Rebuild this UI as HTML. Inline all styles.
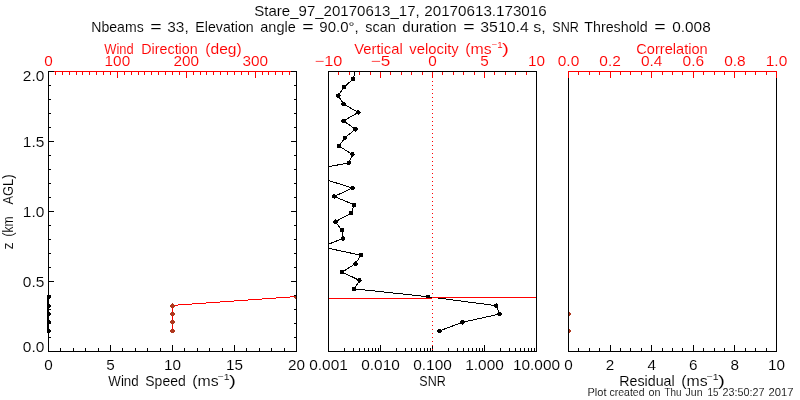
<!DOCTYPE html>
<html lang="en">
<head>
<meta charset="utf-8">
<title>Stare_97_20170613_17</title>
<style>
html,body{margin:0;padding:0;background:#fff;}
body{width:800px;height:400px;overflow:hidden;}
svg{display:block;font-family:"Liberation Sans",sans-serif;}
svg rect{shape-rendering:crispEdges;}
svg .d polyline,svg .d circle{shape-rendering:crispEdges;}
svg text{stroke:#fff;stroke-width:0.1px;}
</style>
</head>
<body>
<svg width="800" height="400" viewBox="0 0 800 400">
<rect x="0" y="0" width="800" height="400" fill="#ffffff"/>
<clipPath id="c2"><rect x="328" y="71" width="209" height="281"/></clipPath>
<clipPath id="c1"><rect x="47" y="71" width="249" height="281"/></clipPath>
<g clip-path="url(#c2)" class="d"><polyline points="439.50,330.85 462.50,322.30 499.50,314.05 496.25,305.65 428.00,296.70 354.25,288.85 359.50,280.45 342.25,272.05 355.50,263.65 361.00,255.25 321.75,246.85 343.00,238.45 341.75,230.05 335.50,221.65 351.00,213.25 354.25,204.85 334.25,196.45 352.50,188.05 325.80,179.65 305.00,171.25 348.75,162.85 352.50,154.45 339.00,146.05 345.00,137.65 355.50,129.25 343.50,120.85 358.30,112.45 343.60,104.05 338.30,95.65 344.00,87.25 353.30,78.85 355.50,70.45" fill="none" stroke="#000000" stroke-width="1"/>
<circle cx="439.50" cy="330.85" r="2.3" fill="#000000"/>
<circle cx="462.50" cy="322.30" r="2.3" fill="#000000"/>
<circle cx="499.50" cy="314.05" r="2.3" fill="#000000"/>
<circle cx="496.25" cy="305.65" r="2.3" fill="#000000"/>
<circle cx="428.00" cy="296.70" r="2.3" fill="#000000"/>
<circle cx="354.25" cy="288.85" r="2.3" fill="#000000"/>
<circle cx="359.50" cy="280.45" r="2.3" fill="#000000"/>
<circle cx="342.25" cy="272.05" r="2.3" fill="#000000"/>
<circle cx="355.50" cy="263.65" r="2.3" fill="#000000"/>
<circle cx="361.00" cy="255.25" r="2.3" fill="#000000"/>
<circle cx="321.75" cy="246.85" r="2.3" fill="#000000"/>
<circle cx="343.00" cy="238.45" r="2.3" fill="#000000"/>
<circle cx="341.75" cy="230.05" r="2.3" fill="#000000"/>
<circle cx="335.50" cy="221.65" r="2.3" fill="#000000"/>
<circle cx="351.00" cy="213.25" r="2.3" fill="#000000"/>
<circle cx="354.25" cy="204.85" r="2.3" fill="#000000"/>
<circle cx="334.25" cy="196.45" r="2.3" fill="#000000"/>
<circle cx="352.50" cy="188.05" r="2.3" fill="#000000"/>
<circle cx="325.80" cy="179.65" r="2.3" fill="#000000"/>
<circle cx="305.00" cy="171.25" r="2.3" fill="#000000"/>
<circle cx="348.75" cy="162.85" r="2.3" fill="#000000"/>
<circle cx="352.50" cy="154.45" r="2.3" fill="#000000"/>
<circle cx="339.00" cy="146.05" r="2.3" fill="#000000"/>
<circle cx="345.00" cy="137.65" r="2.3" fill="#000000"/>
<circle cx="355.50" cy="129.25" r="2.3" fill="#000000"/>
<circle cx="343.50" cy="120.85" r="2.3" fill="#000000"/>
<circle cx="358.30" cy="112.45" r="2.3" fill="#000000"/>
<circle cx="343.60" cy="104.05" r="2.3" fill="#000000"/>
<circle cx="338.30" cy="95.65" r="2.3" fill="#000000"/>
<circle cx="344.00" cy="87.25" r="2.3" fill="#000000"/>
<circle cx="353.30" cy="78.85" r="2.3" fill="#000000"/>
</g>
<rect x="329" y="298" width="103" height="1" fill="#ff0000"/>
<rect x="432" y="297" width="104" height="1" fill="#ff0000"/>
<g clip-path="url(#c1)" class="d">
<rect x="47" y="297" width="1" height="34" fill="#000000"/>
<circle cx="48.50" cy="330.85" r="2.3" fill="#000000"/>
<circle cx="48.50" cy="322.30" r="2.3" fill="#000000"/>
<circle cx="48.50" cy="314.05" r="2.3" fill="#000000"/>
<circle cx="48.50" cy="305.65" r="2.3" fill="#000000"/>
<circle cx="48.50" cy="296.70" r="2.3" fill="#000000"/>
<polyline points="172.50,330.85 172.50,322.45 172.50,314.05 172.50,305.38 296.50,296.53" fill="none" stroke="#ff0000" stroke-width="1"/>
<circle cx="172.50" cy="330.85" r="2.3" fill="#b0381e"/>
<circle cx="172.50" cy="322.30" r="2.3" fill="#b0381e"/>
<circle cx="172.50" cy="314.05" r="2.3" fill="#b0381e"/>
<circle cx="172.50" cy="305.65" r="2.3" fill="#b0381e"/>
<circle cx="296.50" cy="297.00" r="2.3" fill="#b0381e"/>
</g>
<rect x="569" y="312" width="1" height="4" fill="#b0381e"/>
<rect x="570" y="313" width="1" height="2" fill="#b0381e"/>
<rect x="569" y="329" width="1" height="4" fill="#b0381e"/>
<rect x="570" y="330" width="1" height="2" fill="#b0381e"/>
<rect x="48" y="71" width="249" height="1" fill="#ff0000"/>
<rect x="48" y="71" width="1" height="7" fill="#ff0000"/>
<rect x="55" y="71" width="1" height="4" fill="#ff0000"/>
<rect x="62" y="71" width="1" height="4" fill="#ff0000"/>
<rect x="69" y="71" width="1" height="4" fill="#ff0000"/>
<rect x="76" y="71" width="1" height="4" fill="#ff0000"/>
<rect x="82" y="71" width="1" height="4" fill="#ff0000"/>
<rect x="89" y="71" width="1" height="4" fill="#ff0000"/>
<rect x="96" y="71" width="1" height="4" fill="#ff0000"/>
<rect x="103" y="71" width="1" height="4" fill="#ff0000"/>
<rect x="110" y="71" width="1" height="4" fill="#ff0000"/>
<rect x="117" y="71" width="1" height="7" fill="#ff0000"/>
<rect x="124" y="71" width="1" height="4" fill="#ff0000"/>
<rect x="131" y="71" width="1" height="4" fill="#ff0000"/>
<rect x="138" y="71" width="1" height="4" fill="#ff0000"/>
<rect x="144" y="71" width="1" height="4" fill="#ff0000"/>
<rect x="151" y="71" width="1" height="4" fill="#ff0000"/>
<rect x="158" y="71" width="1" height="4" fill="#ff0000"/>
<rect x="165" y="71" width="1" height="4" fill="#ff0000"/>
<rect x="172" y="71" width="1" height="4" fill="#ff0000"/>
<rect x="179" y="71" width="1" height="4" fill="#ff0000"/>
<rect x="186" y="71" width="1" height="7" fill="#ff0000"/>
<rect x="193" y="71" width="1" height="4" fill="#ff0000"/>
<rect x="200" y="71" width="1" height="4" fill="#ff0000"/>
<rect x="206" y="71" width="1" height="4" fill="#ff0000"/>
<rect x="213" y="71" width="1" height="4" fill="#ff0000"/>
<rect x="220" y="71" width="1" height="4" fill="#ff0000"/>
<rect x="227" y="71" width="1" height="4" fill="#ff0000"/>
<rect x="234" y="71" width="1" height="4" fill="#ff0000"/>
<rect x="241" y="71" width="1" height="4" fill="#ff0000"/>
<rect x="248" y="71" width="1" height="4" fill="#ff0000"/>
<rect x="255" y="71" width="1" height="7" fill="#ff0000"/>
<rect x="262" y="71" width="1" height="4" fill="#ff0000"/>
<rect x="268" y="71" width="1" height="4" fill="#ff0000"/>
<rect x="275" y="71" width="1" height="4" fill="#ff0000"/>
<rect x="282" y="71" width="1" height="4" fill="#ff0000"/>
<rect x="289" y="71" width="1" height="4" fill="#ff0000"/>
<rect x="296" y="71" width="1" height="4" fill="#ff0000"/>
<rect x="48" y="351" width="249" height="1" fill="#000000"/>
<rect x="48" y="345" width="1" height="7" fill="#000000"/>
<rect x="60" y="348" width="1" height="4" fill="#000000"/>
<rect x="73" y="348" width="1" height="4" fill="#000000"/>
<rect x="85" y="348" width="1" height="4" fill="#000000"/>
<rect x="98" y="348" width="1" height="4" fill="#000000"/>
<rect x="110" y="345" width="1" height="7" fill="#000000"/>
<rect x="122" y="348" width="1" height="4" fill="#000000"/>
<rect x="135" y="348" width="1" height="4" fill="#000000"/>
<rect x="147" y="348" width="1" height="4" fill="#000000"/>
<rect x="160" y="348" width="1" height="4" fill="#000000"/>
<rect x="172" y="345" width="1" height="7" fill="#000000"/>
<rect x="184" y="348" width="1" height="4" fill="#000000"/>
<rect x="197" y="348" width="1" height="4" fill="#000000"/>
<rect x="209" y="348" width="1" height="4" fill="#000000"/>
<rect x="222" y="348" width="1" height="4" fill="#000000"/>
<rect x="234" y="345" width="1" height="7" fill="#000000"/>
<rect x="246" y="348" width="1" height="4" fill="#000000"/>
<rect x="259" y="348" width="1" height="4" fill="#000000"/>
<rect x="271" y="348" width="1" height="4" fill="#000000"/>
<rect x="284" y="348" width="1" height="4" fill="#000000"/>
<rect x="296" y="345" width="1" height="7" fill="#000000"/>
<rect x="48" y="71" width="1" height="281" fill="#000000"/>
<rect x="296" y="71" width="1" height="281" fill="#000000"/>
<rect x="48" y="351" width="6" height="1" fill="#000000"/>
<rect x="291" y="351" width="6" height="1" fill="#000000"/>
<rect x="48" y="337" width="3" height="1" fill="#000000"/>
<rect x="294" y="337" width="3" height="1" fill="#000000"/>
<rect x="48" y="323" width="3" height="1" fill="#000000"/>
<rect x="294" y="323" width="3" height="1" fill="#000000"/>
<rect x="48" y="309" width="3" height="1" fill="#000000"/>
<rect x="294" y="309" width="3" height="1" fill="#000000"/>
<rect x="48" y="295" width="3" height="1" fill="#000000"/>
<rect x="294" y="295" width="3" height="1" fill="#000000"/>
<rect x="48" y="281" width="6" height="1" fill="#000000"/>
<rect x="291" y="281" width="6" height="1" fill="#000000"/>
<rect x="48" y="267" width="3" height="1" fill="#000000"/>
<rect x="294" y="267" width="3" height="1" fill="#000000"/>
<rect x="48" y="253" width="3" height="1" fill="#000000"/>
<rect x="294" y="253" width="3" height="1" fill="#000000"/>
<rect x="48" y="239" width="3" height="1" fill="#000000"/>
<rect x="294" y="239" width="3" height="1" fill="#000000"/>
<rect x="48" y="225" width="3" height="1" fill="#000000"/>
<rect x="294" y="225" width="3" height="1" fill="#000000"/>
<rect x="48" y="211" width="6" height="1" fill="#000000"/>
<rect x="291" y="211" width="6" height="1" fill="#000000"/>
<rect x="48" y="197" width="3" height="1" fill="#000000"/>
<rect x="294" y="197" width="3" height="1" fill="#000000"/>
<rect x="48" y="183" width="3" height="1" fill="#000000"/>
<rect x="294" y="183" width="3" height="1" fill="#000000"/>
<rect x="48" y="169" width="3" height="1" fill="#000000"/>
<rect x="294" y="169" width="3" height="1" fill="#000000"/>
<rect x="48" y="155" width="3" height="1" fill="#000000"/>
<rect x="294" y="155" width="3" height="1" fill="#000000"/>
<rect x="48" y="141" width="6" height="1" fill="#000000"/>
<rect x="291" y="141" width="6" height="1" fill="#000000"/>
<rect x="48" y="127" width="3" height="1" fill="#000000"/>
<rect x="294" y="127" width="3" height="1" fill="#000000"/>
<rect x="48" y="113" width="3" height="1" fill="#000000"/>
<rect x="294" y="113" width="3" height="1" fill="#000000"/>
<rect x="48" y="99" width="3" height="1" fill="#000000"/>
<rect x="294" y="99" width="3" height="1" fill="#000000"/>
<rect x="48" y="85" width="3" height="1" fill="#000000"/>
<rect x="294" y="85" width="3" height="1" fill="#000000"/>
<rect x="48" y="71" width="6" height="1" fill="#000000"/>
<rect x="291" y="71" width="6" height="1" fill="#000000"/>
<rect x="328" y="71" width="1" height="7" fill="#ff0000"/>
<rect x="338" y="71" width="1" height="4" fill="#ff0000"/>
<rect x="349" y="71" width="1" height="4" fill="#ff0000"/>
<rect x="359" y="71" width="1" height="4" fill="#ff0000"/>
<rect x="370" y="71" width="1" height="4" fill="#ff0000"/>
<rect x="380" y="71" width="1" height="7" fill="#ff0000"/>
<rect x="390" y="71" width="1" height="4" fill="#ff0000"/>
<rect x="401" y="71" width="1" height="4" fill="#ff0000"/>
<rect x="411" y="71" width="1" height="4" fill="#ff0000"/>
<rect x="422" y="71" width="1" height="4" fill="#ff0000"/>
<rect x="432" y="71" width="1" height="7" fill="#ff0000"/>
<rect x="442" y="71" width="1" height="4" fill="#ff0000"/>
<rect x="453" y="71" width="1" height="4" fill="#ff0000"/>
<rect x="463" y="71" width="1" height="4" fill="#ff0000"/>
<rect x="474" y="71" width="1" height="4" fill="#ff0000"/>
<rect x="484" y="71" width="1" height="7" fill="#ff0000"/>
<rect x="494" y="71" width="1" height="4" fill="#ff0000"/>
<rect x="505" y="71" width="1" height="4" fill="#ff0000"/>
<rect x="515" y="71" width="1" height="4" fill="#ff0000"/>
<rect x="526" y="71" width="1" height="4" fill="#ff0000"/>
<rect x="536" y="71" width="1" height="7" fill="#ff0000"/>
<rect x="328" y="71" width="209" height="1" fill="#000000"/>
<rect x="328" y="351" width="209" height="1" fill="#000000"/>
<rect x="328" y="71" width="1" height="281" fill="#000000"/>
<rect x="536" y="71" width="1" height="281" fill="#000000"/>
<rect x="328" y="345" width="1" height="7" fill="#000000"/>
<rect x="344" y="348" width="1" height="4" fill="#000000"/>
<rect x="353" y="348" width="1" height="4" fill="#000000"/>
<rect x="359" y="348" width="1" height="4" fill="#000000"/>
<rect x="364" y="348" width="1" height="4" fill="#000000"/>
<rect x="368" y="348" width="1" height="4" fill="#000000"/>
<rect x="372" y="348" width="1" height="4" fill="#000000"/>
<rect x="375" y="348" width="1" height="4" fill="#000000"/>
<rect x="378" y="348" width="1" height="4" fill="#000000"/>
<rect x="380" y="345" width="1" height="7" fill="#000000"/>
<rect x="396" y="348" width="1" height="4" fill="#000000"/>
<rect x="405" y="348" width="1" height="4" fill="#000000"/>
<rect x="411" y="348" width="1" height="4" fill="#000000"/>
<rect x="416" y="348" width="1" height="4" fill="#000000"/>
<rect x="420" y="348" width="1" height="4" fill="#000000"/>
<rect x="424" y="348" width="1" height="4" fill="#000000"/>
<rect x="427" y="348" width="1" height="4" fill="#000000"/>
<rect x="430" y="348" width="1" height="4" fill="#000000"/>
<rect x="432" y="345" width="1" height="7" fill="#000000"/>
<rect x="448" y="348" width="1" height="4" fill="#000000"/>
<rect x="457" y="348" width="1" height="4" fill="#000000"/>
<rect x="463" y="348" width="1" height="4" fill="#000000"/>
<rect x="468" y="348" width="1" height="4" fill="#000000"/>
<rect x="472" y="348" width="1" height="4" fill="#000000"/>
<rect x="476" y="348" width="1" height="4" fill="#000000"/>
<rect x="479" y="348" width="1" height="4" fill="#000000"/>
<rect x="482" y="348" width="1" height="4" fill="#000000"/>
<rect x="484" y="345" width="1" height="7" fill="#000000"/>
<rect x="500" y="348" width="1" height="4" fill="#000000"/>
<rect x="509" y="348" width="1" height="4" fill="#000000"/>
<rect x="515" y="348" width="1" height="4" fill="#000000"/>
<rect x="520" y="348" width="1" height="4" fill="#000000"/>
<rect x="524" y="348" width="1" height="4" fill="#000000"/>
<rect x="528" y="348" width="1" height="4" fill="#000000"/>
<rect x="531" y="348" width="1" height="4" fill="#000000"/>
<rect x="534" y="348" width="1" height="4" fill="#000000"/>
<rect x="568" y="351" width="209" height="1" fill="#000000"/>
<rect x="568" y="71" width="1" height="281" fill="#000000"/>
<rect x="776" y="71" width="1" height="281" fill="#000000"/>
<rect x="568" y="345" width="1" height="7" fill="#000000"/>
<rect x="578" y="348" width="1" height="4" fill="#000000"/>
<rect x="589" y="348" width="1" height="4" fill="#000000"/>
<rect x="599" y="348" width="1" height="4" fill="#000000"/>
<rect x="610" y="345" width="1" height="7" fill="#000000"/>
<rect x="620" y="348" width="1" height="4" fill="#000000"/>
<rect x="630" y="348" width="1" height="4" fill="#000000"/>
<rect x="641" y="348" width="1" height="4" fill="#000000"/>
<rect x="651" y="345" width="1" height="7" fill="#000000"/>
<rect x="662" y="348" width="1" height="4" fill="#000000"/>
<rect x="672" y="348" width="1" height="4" fill="#000000"/>
<rect x="682" y="348" width="1" height="4" fill="#000000"/>
<rect x="693" y="345" width="1" height="7" fill="#000000"/>
<rect x="703" y="348" width="1" height="4" fill="#000000"/>
<rect x="714" y="348" width="1" height="4" fill="#000000"/>
<rect x="724" y="348" width="1" height="4" fill="#000000"/>
<rect x="734" y="345" width="1" height="7" fill="#000000"/>
<rect x="745" y="348" width="1" height="4" fill="#000000"/>
<rect x="755" y="348" width="1" height="4" fill="#000000"/>
<rect x="766" y="348" width="1" height="4" fill="#000000"/>
<rect x="776" y="345" width="1" height="7" fill="#000000"/>
<rect x="568" y="71" width="209" height="1" fill="#ff0000"/>
<rect x="568" y="71" width="1" height="7" fill="#ff0000"/>
<rect x="578" y="71" width="1" height="4" fill="#ff0000"/>
<rect x="589" y="71" width="1" height="4" fill="#ff0000"/>
<rect x="599" y="71" width="1" height="4" fill="#ff0000"/>
<rect x="610" y="71" width="1" height="7" fill="#ff0000"/>
<rect x="620" y="71" width="1" height="4" fill="#ff0000"/>
<rect x="630" y="71" width="1" height="4" fill="#ff0000"/>
<rect x="641" y="71" width="1" height="4" fill="#ff0000"/>
<rect x="651" y="71" width="1" height="7" fill="#ff0000"/>
<rect x="662" y="71" width="1" height="4" fill="#ff0000"/>
<rect x="672" y="71" width="1" height="4" fill="#ff0000"/>
<rect x="682" y="71" width="1" height="4" fill="#ff0000"/>
<rect x="693" y="71" width="1" height="7" fill="#ff0000"/>
<rect x="703" y="71" width="1" height="4" fill="#ff0000"/>
<rect x="714" y="71" width="1" height="4" fill="#ff0000"/>
<rect x="724" y="71" width="1" height="4" fill="#ff0000"/>
<rect x="734" y="71" width="1" height="7" fill="#ff0000"/>
<rect x="745" y="71" width="1" height="4" fill="#ff0000"/>
<rect x="755" y="71" width="1" height="4" fill="#ff0000"/>
<rect x="766" y="71" width="1" height="4" fill="#ff0000"/>
<rect x="776" y="71" width="1" height="7" fill="#ff0000"/>
<rect x="432" y="81" width="1" height="1" fill="#ff0000"/>
<rect x="432" y="85" width="1" height="1" fill="#ff0000"/>
<rect x="432" y="89" width="1" height="1" fill="#ff0000"/>
<rect x="432" y="93" width="1" height="1" fill="#ff0000"/>
<rect x="432" y="97" width="1" height="1" fill="#ff0000"/>
<rect x="432" y="101" width="1" height="1" fill="#ff0000"/>
<rect x="432" y="105" width="1" height="1" fill="#ff0000"/>
<rect x="432" y="109" width="1" height="1" fill="#ff0000"/>
<rect x="432" y="113" width="1" height="1" fill="#ff0000"/>
<rect x="432" y="117" width="1" height="1" fill="#ff0000"/>
<rect x="432" y="121" width="1" height="1" fill="#ff0000"/>
<rect x="432" y="125" width="1" height="1" fill="#ff0000"/>
<rect x="432" y="129" width="1" height="1" fill="#ff0000"/>
<rect x="432" y="133" width="1" height="1" fill="#ff0000"/>
<rect x="432" y="137" width="1" height="1" fill="#ff0000"/>
<rect x="432" y="141" width="1" height="1" fill="#ff0000"/>
<rect x="432" y="145" width="1" height="1" fill="#ff0000"/>
<rect x="432" y="149" width="1" height="1" fill="#ff0000"/>
<rect x="432" y="153" width="1" height="1" fill="#ff0000"/>
<rect x="432" y="157" width="1" height="1" fill="#ff0000"/>
<rect x="432" y="161" width="1" height="1" fill="#ff0000"/>
<rect x="432" y="165" width="1" height="1" fill="#ff0000"/>
<rect x="432" y="169" width="1" height="1" fill="#ff0000"/>
<rect x="432" y="173" width="1" height="1" fill="#ff0000"/>
<rect x="432" y="177" width="1" height="1" fill="#ff0000"/>
<rect x="432" y="181" width="1" height="1" fill="#ff0000"/>
<rect x="432" y="185" width="1" height="1" fill="#ff0000"/>
<rect x="432" y="189" width="1" height="1" fill="#ff0000"/>
<rect x="432" y="193" width="1" height="1" fill="#ff0000"/>
<rect x="432" y="197" width="1" height="1" fill="#ff0000"/>
<rect x="432" y="201" width="1" height="1" fill="#ff0000"/>
<rect x="432" y="205" width="1" height="1" fill="#ff0000"/>
<rect x="432" y="209" width="1" height="1" fill="#ff0000"/>
<rect x="432" y="213" width="1" height="1" fill="#ff0000"/>
<rect x="432" y="217" width="1" height="1" fill="#ff0000"/>
<rect x="432" y="221" width="1" height="1" fill="#ff0000"/>
<rect x="432" y="225" width="1" height="1" fill="#ff0000"/>
<rect x="432" y="229" width="1" height="1" fill="#ff0000"/>
<rect x="432" y="233" width="1" height="1" fill="#ff0000"/>
<rect x="432" y="237" width="1" height="1" fill="#ff0000"/>
<rect x="432" y="241" width="1" height="1" fill="#ff0000"/>
<rect x="432" y="245" width="1" height="1" fill="#ff0000"/>
<rect x="432" y="249" width="1" height="1" fill="#ff0000"/>
<rect x="432" y="253" width="1" height="1" fill="#ff0000"/>
<rect x="432" y="257" width="1" height="1" fill="#ff0000"/>
<rect x="432" y="261" width="1" height="1" fill="#ff0000"/>
<rect x="432" y="265" width="1" height="1" fill="#ff0000"/>
<rect x="432" y="269" width="1" height="1" fill="#ff0000"/>
<rect x="432" y="273" width="1" height="1" fill="#ff0000"/>
<rect x="432" y="277" width="1" height="1" fill="#ff0000"/>
<rect x="432" y="281" width="1" height="1" fill="#ff0000"/>
<rect x="432" y="285" width="1" height="1" fill="#ff0000"/>
<rect x="432" y="289" width="1" height="1" fill="#ff0000"/>
<rect x="432" y="293" width="1" height="1" fill="#ff0000"/>
<rect x="432" y="297" width="1" height="1" fill="#ff0000"/>
<rect x="432" y="301" width="1" height="1" fill="#ff0000"/>
<rect x="432" y="305" width="1" height="1" fill="#ff0000"/>
<rect x="432" y="309" width="1" height="1" fill="#ff0000"/>
<rect x="432" y="313" width="1" height="1" fill="#ff0000"/>
<rect x="432" y="317" width="1" height="1" fill="#ff0000"/>
<rect x="432" y="321" width="1" height="1" fill="#ff0000"/>
<rect x="432" y="325" width="1" height="1" fill="#ff0000"/>
<rect x="432" y="329" width="1" height="1" fill="#ff0000"/>
<rect x="432" y="333" width="1" height="1" fill="#ff0000"/>
<rect x="432" y="337" width="1" height="1" fill="#ff0000"/>
<rect x="432" y="341" width="1" height="1" fill="#ff0000"/>
<rect x="432" y="345" width="1" height="1" fill="#ff0000"/>
<rect x="432" y="349" width="1" height="1" fill="#ff0000"/>
<text fill="#000000" font-size="14.5"><tspan x="254.30" y="16" textLength="165.40" lengthAdjust="spacingAndGlyphs">Stare_97_20170613_17,</tspan> <tspan x="424.30" y="16" textLength="122.40" lengthAdjust="spacingAndGlyphs">20170613.173016</tspan></text>
<text fill="#000000" font-size="14.5"><tspan x="91.30" y="32" textLength="52.40" lengthAdjust="spacingAndGlyphs">Nbeams</tspan> <tspan x="150.30" y="32" textLength="11.40" lengthAdjust="spacingAndGlyphs">=</tspan> <tspan x="167.30" y="32" textLength="21.40" lengthAdjust="spacingAndGlyphs">33,</tspan> <tspan x="195.30" y="32" textLength="58.40" lengthAdjust="spacingAndGlyphs">Elevation</tspan> <tspan x="260.30" y="32" textLength="35.40" lengthAdjust="spacingAndGlyphs">angle</tspan> <tspan x="302.30" y="32" textLength="11.40" lengthAdjust="spacingAndGlyphs">=</tspan> <tspan x="319.30" y="32" textLength="39.40" lengthAdjust="spacingAndGlyphs">90.0°,</tspan> <tspan x="365.30" y="32" textLength="30.40" lengthAdjust="spacingAndGlyphs">scan</tspan> <tspan x="402.30" y="32" textLength="54.40" lengthAdjust="spacingAndGlyphs">duration</tspan> <tspan x="463.30" y="32" textLength="11.40" lengthAdjust="spacingAndGlyphs">=</tspan> <tspan x="480.30" y="32" textLength="48.40" lengthAdjust="spacingAndGlyphs">3510.4</tspan> <tspan x="533.30" y="32" textLength="12.40" lengthAdjust="spacingAndGlyphs">s,</tspan> <tspan x="552.30" y="32" textLength="26.40" lengthAdjust="spacingAndGlyphs">SNR</tspan> <tspan x="584.30" y="32" textLength="63.40" lengthAdjust="spacingAndGlyphs">Threshold</tspan> <tspan x="654.30" y="32" textLength="11.40" lengthAdjust="spacingAndGlyphs">=</tspan> <tspan x="672.30" y="32" textLength="38.40" lengthAdjust="spacingAndGlyphs">0.008</tspan></text>
<text fill="#ff0000" font-size="14.5"><tspan x="104.30" y="54" textLength="29.40" lengthAdjust="spacingAndGlyphs">Wind</tspan> <tspan x="141.30" y="54" textLength="56.40" lengthAdjust="spacingAndGlyphs">Direction</tspan> <tspan x="205.30" y="54" textLength="36.40" lengthAdjust="spacingAndGlyphs">(deg)</tspan></text>
<text fill="#ff0000" font-size="14.5"><tspan x="354.30" y="54" textLength="48.40" lengthAdjust="spacingAndGlyphs">Vertical</tspan> <tspan x="409.30" y="54" textLength="49.40" lengthAdjust="spacingAndGlyphs">velocity</tspan> <tspan x="465.30" y="54" textLength="26.40" lengthAdjust="spacingAndGlyphs">(ms</tspan><tspan x="491.50" y="47.5" font-size="9.5" textLength="11.00" lengthAdjust="spacingAndGlyphs">−1</tspan><tspan x="502.00" y="54" textLength="7.00" lengthAdjust="spacingAndGlyphs">)</tspan></text>
<text fill="#ff0000" font-size="14.5"><tspan x="636.30" y="54" textLength="71.40" lengthAdjust="spacingAndGlyphs">Correlation</tspan></text>
<text fill="#000000" font-size="14.5"><tspan x="108.30" y="386" textLength="30.40" lengthAdjust="spacingAndGlyphs">Wind</tspan> <tspan x="145.30" y="386" textLength="40.40" lengthAdjust="spacingAndGlyphs">Speed</tspan> <tspan x="192.30" y="386" textLength="26.40" lengthAdjust="spacingAndGlyphs">(ms</tspan><tspan x="217.50" y="379.5" font-size="9.5" textLength="12.00" lengthAdjust="spacingAndGlyphs">−1</tspan><tspan x="229.00" y="386" textLength="7.00" lengthAdjust="spacingAndGlyphs">)</tspan></text>
<text fill="#000000" font-size="14.5"><tspan x="419.30" y="386" textLength="26.40" lengthAdjust="spacingAndGlyphs">SNR</tspan></text>
<text fill="#000000" font-size="14.5"><tspan x="619.30" y="386" textLength="55.40" lengthAdjust="spacingAndGlyphs">Residual</tspan> <tspan x="681.30" y="386" textLength="26.40" lengthAdjust="spacingAndGlyphs">(ms</tspan><tspan x="706.50" y="379.5" font-size="9.5" textLength="12.00" lengthAdjust="spacingAndGlyphs">−1</tspan><tspan x="718.00" y="386" textLength="7.00" lengthAdjust="spacingAndGlyphs">)</tspan></text>
<text fill="#000000" font-size="10.4"><tspan x="587.50" y="396" textLength="19.00" lengthAdjust="spacingAndGlyphs">Plot</tspan> <tspan x="609.50" y="396" textLength="35.00" lengthAdjust="spacingAndGlyphs">created</tspan> <tspan x="648.50" y="396" textLength="12.00" lengthAdjust="spacingAndGlyphs">on</tspan> <tspan x="664.50" y="396" textLength="17.00" lengthAdjust="spacingAndGlyphs">Thu</tspan> <tspan x="685.50" y="396" textLength="17.00" lengthAdjust="spacingAndGlyphs">Jun</tspan> <tspan x="707.50" y="396" textLength="11.00" lengthAdjust="spacingAndGlyphs">15</tspan> <tspan x="722.50" y="396" textLength="42.00" lengthAdjust="spacingAndGlyphs">23:50:27</tspan> <tspan x="768.50" y="396" textLength="25.00" lengthAdjust="spacingAndGlyphs">2017</tspan></text>
<text transform="rotate(-90)" fill="#000000" font-size="14.5"><tspan x="-249.60" y="12.5" textLength="7.20" lengthAdjust="spacingAndGlyphs">z</tspan> <tspan x="-236.60" y="12.5" textLength="20.20" lengthAdjust="spacingAndGlyphs">(km</tspan> <tspan x="-204.60" y="12.5" textLength="30.20" lengthAdjust="spacingAndGlyphs">AGL)</tspan></text>
<text x="44.24" y="66" fill="#ff0000" font-size="14.5" textLength="8.51" lengthAdjust="spacingAndGlyphs">0</text>
<text x="104.62" y="66" fill="#ff0000" font-size="14.5" textLength="25.54" lengthAdjust="spacingAndGlyphs">100</text>
<text x="173.51" y="66" fill="#ff0000" font-size="14.5" textLength="25.54" lengthAdjust="spacingAndGlyphs">200</text>
<text x="242.40" y="66" fill="#ff0000" font-size="14.5" textLength="25.54" lengthAdjust="spacingAndGlyphs">300</text>
<text x="314.70" y="66" fill="#ff0000" font-size="14.5" textLength="27.59" lengthAdjust="spacingAndGlyphs">−10</text>
<text x="370.74" y="66" fill="#ff0000" font-size="14.5" textLength="19.53" lengthAdjust="spacingAndGlyphs">−5</text>
<text x="428.24" y="66" fill="#ff0000" font-size="14.5" textLength="8.51" lengthAdjust="spacingAndGlyphs">0</text>
<text x="480.24" y="66" fill="#ff0000" font-size="14.5" textLength="8.51" lengthAdjust="spacingAndGlyphs">5</text>
<text x="527.99" y="66" fill="#ff0000" font-size="14.5" textLength="17.02" lengthAdjust="spacingAndGlyphs">10</text>
<text x="557.75" y="66" fill="#ff0000" font-size="14.5" textLength="21.51" lengthAdjust="spacingAndGlyphs">0.0</text>
<text x="599.35" y="66" fill="#ff0000" font-size="14.5" textLength="21.51" lengthAdjust="spacingAndGlyphs">0.2</text>
<text x="640.95" y="66" fill="#ff0000" font-size="14.5" textLength="21.51" lengthAdjust="spacingAndGlyphs">0.4</text>
<text x="682.55" y="66" fill="#ff0000" font-size="14.5" textLength="21.51" lengthAdjust="spacingAndGlyphs">0.6</text>
<text x="724.15" y="66" fill="#ff0000" font-size="14.5" textLength="21.51" lengthAdjust="spacingAndGlyphs">0.8</text>
<text x="765.75" y="66" fill="#ff0000" font-size="14.5" textLength="21.51" lengthAdjust="spacingAndGlyphs">1.0</text>
<text x="44.24" y="370" fill="#000000" font-size="14.5" textLength="8.51" lengthAdjust="spacingAndGlyphs">0</text>
<text x="106.24" y="370" fill="#000000" font-size="14.5" textLength="8.51" lengthAdjust="spacingAndGlyphs">5</text>
<text x="163.99" y="370" fill="#000000" font-size="14.5" textLength="17.02" lengthAdjust="spacingAndGlyphs">10</text>
<text x="225.99" y="370" fill="#000000" font-size="14.5" textLength="17.02" lengthAdjust="spacingAndGlyphs">15</text>
<text x="287.99" y="370" fill="#000000" font-size="14.5" textLength="17.02" lengthAdjust="spacingAndGlyphs">20</text>
<text x="309.24" y="370" fill="#000000" font-size="14.5" textLength="38.53" lengthAdjust="spacingAndGlyphs">0.001</text>
<text x="361.24" y="370" fill="#000000" font-size="14.5" textLength="38.53" lengthAdjust="spacingAndGlyphs">0.010</text>
<text x="413.24" y="370" fill="#000000" font-size="14.5" textLength="38.53" lengthAdjust="spacingAndGlyphs">0.100</text>
<text x="465.24" y="370" fill="#000000" font-size="14.5" textLength="38.53" lengthAdjust="spacingAndGlyphs">1.000</text>
<text x="512.98" y="370" fill="#000000" font-size="14.5" textLength="47.04" lengthAdjust="spacingAndGlyphs">10.000</text>
<text x="564.24" y="370" fill="#000000" font-size="14.5" textLength="8.51" lengthAdjust="spacingAndGlyphs">0</text>
<text x="605.84" y="370" fill="#000000" font-size="14.5" textLength="8.51" lengthAdjust="spacingAndGlyphs">2</text>
<text x="647.44" y="370" fill="#000000" font-size="14.5" textLength="8.51" lengthAdjust="spacingAndGlyphs">4</text>
<text x="689.04" y="370" fill="#000000" font-size="14.5" textLength="8.51" lengthAdjust="spacingAndGlyphs">6</text>
<text x="730.64" y="370" fill="#000000" font-size="14.5" textLength="8.51" lengthAdjust="spacingAndGlyphs">8</text>
<text x="767.99" y="370" fill="#000000" font-size="14.5" textLength="17.02" lengthAdjust="spacingAndGlyphs">10</text>
<text x="22.79" y="352" fill="#000000" font-size="14.5" textLength="21.51" lengthAdjust="spacingAndGlyphs">0.0</text>
<text x="22.79" y="287" fill="#000000" font-size="14.5" textLength="21.51" lengthAdjust="spacingAndGlyphs">0.5</text>
<text x="22.79" y="217" fill="#000000" font-size="14.5" textLength="21.51" lengthAdjust="spacingAndGlyphs">1.0</text>
<text x="22.79" y="147" fill="#000000" font-size="14.5" textLength="21.51" lengthAdjust="spacingAndGlyphs">1.5</text>
<text x="22.79" y="81" fill="#000000" font-size="14.5" textLength="21.51" lengthAdjust="spacingAndGlyphs">2.0</text>
</svg>
</body>
</html>
